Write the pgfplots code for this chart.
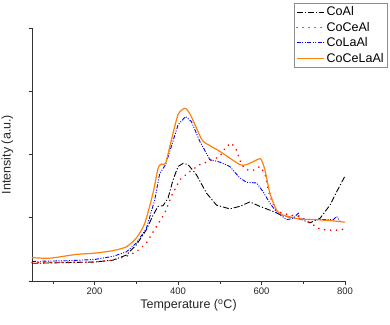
\documentclass[border=0pt]{standalone}
\usepackage{pgfplots}
\pgfplotsset{compat=1.18}
\usepackage{fontspec}
\setmainfont{Liberation Sans}
\definecolor{cOr}{RGB}{255,128,10}
\begin{document}
\begin{tikzpicture}[x=1pt,y=1pt]
\useasboundingbox (0,0) rectangle (390,324);
\begin{axis}[
  at={(32pt,43pt)}, anchor=south west,
  scale only axis, width=313pt, height=253pt,
  xmin=50, xmax=800, ymin=0, ymax=4,
  axis x line*=bottom, axis y line*=left,
  axis line style={draw=black!80, line width=0.7pt},
  tick align=outside,
  xtick={200,400,600,800}, minor xtick={100,300,500,700},
  ytick={0,1,2,3,4}, yticklabels={},
  major tick length=3.5pt, minor tick length=2.5pt,
  tick style={black!80, line width=0.6pt},
  /pgf/number format/assume math mode=true,
  tick label style={font=\fontsize{9.5}{11}\selectfont, text=black!85},
  xlabel={Temperature (\textsuperscript{o}C)},
  ylabel={Intensity (a.u.)},
  label style={font=\fontsize{12.5}{14}\selectfont, text=black!85},
  xlabel style={yshift=2pt},
  ylabel style={yshift=5pt},
  clip=false,
  legend style={at={(1.137,1.100)}, anchor=north east, draw=black!45,
    font=\fontsize{12.5}{14}\selectfont, row sep=0.8pt, inner sep=2pt,
    legend cell align=left},
  legend image code/.code={\draw[#1] (0pt,0pt) -- (27pt,0pt);},
]
\addplot[black, line width=0.9pt, dash pattern=on 6pt off 2pt on 1.2pt off 2pt, forget plot] coordinates {
(50,0.28)(200,0.30)(244,0.33)(276,0.41)(300,0.57)(324,0.81)(340,1.04)(352,1.18)(364,1.19)(376,1.31)(388,1.60)(400,1.81)(412,1.86)(424,1.84)(444,1.68)(468,1.39)(492,1.20)(524,1.14)(548,1.18)(572,1.25)(596,1.18)(620,1.12)(652,1.03)(692,0.98)(716,0.92)(740,0.99)(764,1.20)(780,1.41)(800,1.66)};
\addplot[red, line width=1.6pt, line cap=round, dash pattern=on 0.3pt off 5.7pt, forget plot] coordinates {
(50,0.29)(200,0.30)(244,0.33)(276,0.39)(300,0.46)(324,0.60)(348,0.86)(368,1.07)(384,1.34)(404,1.60)(428,1.73)(452,1.84)(484,1.92)(500,1.97)(516,2.13)(528,2.18)(540,2.07)(552,1.84)(564,1.76)(580,1.75)(596,1.81)(608,1.70)(620,1.34)(636,1.10)(668,1.04)(692,1.02)(716,0.92)(740,0.82)(772,0.80)(800,0.82)};
\addplot[blue, line width=0.9pt, dash pattern=on 4pt off 1.5pt on 1pt off 1.5pt on 1pt off 1.5pt, forget plot] coordinates {
(50,0.31)(132,0.32)(200,0.34)(244,0.39)(276,0.46)(300,0.60)(324,0.83)(344,1.28)(356,1.70)(370,1.84)(384,2.13)(400,2.47)(418,2.60)(432,2.52)(452,2.21)(476,1.92)(500,1.88)(524,1.81)(548,1.63)(564,1.56)(588,1.55)(604,1.41)(620,1.23)(636,1.09)(660,0.97)(676,0.99)(688,1.07)(692,0.98)(732,0.97)(772,0.97)(780,1.02)(788,0.95)};
\addplot[cOr, line width=1.2pt, smooth, tension=0.4, forget plot] coordinates {
(50,0.37)(92,0.36)(156,0.42)(200,0.44)(244,0.48)(276,0.54)(300,0.68)(320,0.91)(340,1.39)(352,1.78)(360,1.85)(370,1.86)(384,2.23)(400,2.63)(416,2.73)(428,2.65)(444,2.42)(460,2.21)(500,2.05)(548,1.84)(564,1.84)(584,1.90)(598,1.93)(608,1.76)(620,1.39)(636,1.12)(652,1.04)(692,0.98)(732,0.97)(772,0.95)(800,0.93)};
\addlegendimage{black, line width=0.9pt, dash pattern=on 6pt off 2pt on 1.2pt off 2pt}
\addlegendentry{CoAl}
\addlegendimage{red, line width=1.6pt, line cap=round, dash pattern=on 0.3pt off 5.7pt}
\addlegendentry{CoCeAl}
\addlegendimage{blue, line width=0.9pt, dash pattern=on 4pt off 1.5pt on 1pt off 1.5pt on 1pt off 1.5pt}
\addlegendentry{CoLaAl}
\addlegendimage{cOr, line width=1.2pt}
\addlegendentry{CoCeLaAl}
\end{axis}
\end{tikzpicture}
\end{document}
